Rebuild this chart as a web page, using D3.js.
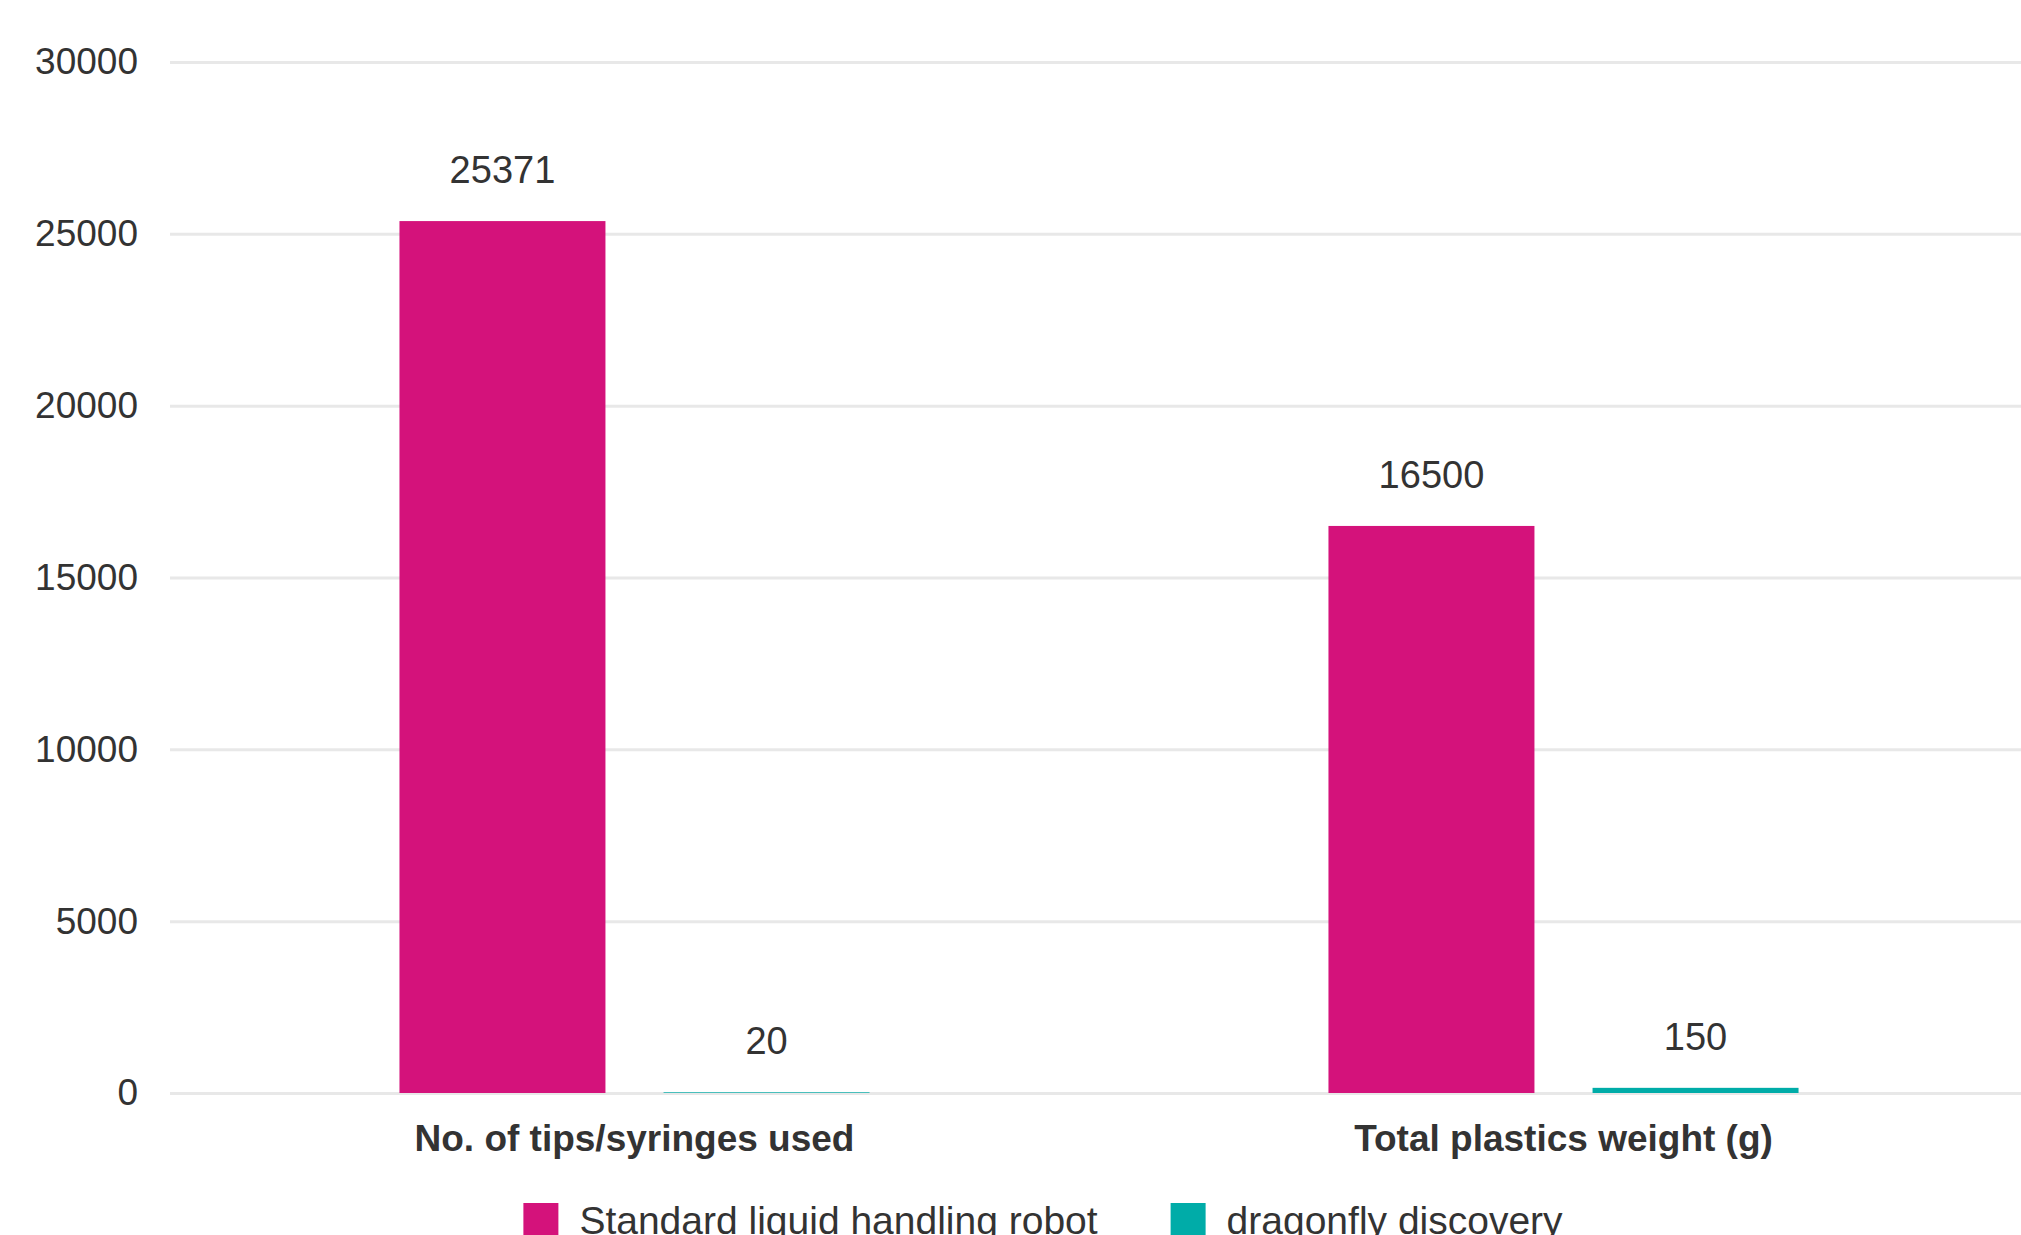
<!DOCTYPE html>
<html>
<head>
<meta charset="utf-8">
<script src="https://cdn.jsdelivr.net/npm/d3@7"></script>
<style>
  body { margin: 0; background: #fff; overflow: hidden; }
  text { font-family: "Liberation Sans", Arial, Helvetica, sans-serif; fill: #333; }
</style>
</head>
<body>
<script>
var categories = ["No. of tips/syringes used", "Total plastics weight (g)"];
var seriesNames = ["Standard liquid handling robot", "dragonfly discovery"];
var robotValues = [25371, 16500];
var dragonflyValues = [20, 150];
var yTicks = [0, 5000, 10000, 15000, 20000, 25000, 30000];

var width = 2021,
    height = 1235,
    plotLeft = 170,
    plotRight = 2028,
    plotTop = 62,
    plotBottom = 1093;

var color = ["#d4127b", "#00aca8"];

var rows = categories.map(function(c, i) {
  return {cat: c, values: [robotValues[i], dragonflyValues[i]]};
});

var x0 = d3.scaleBand()
    .domain(categories)
    .range([plotLeft, plotRight])
    .paddingInner(0.494)
    .paddingOuter(0.247);

var x1 = d3.scaleBand()
    .domain(seriesNames)
    .range([0, x0.bandwidth()])
    .paddingInner(0.22);

var y = d3.scaleLinear()
    .domain([0, 30000])
    .range([plotBottom, plotTop]);

var svg = d3.select("body").append("svg")
    .attr("width", width)
    .attr("height", height);

// gridlines + tick labels
var yAxis = svg.append("g")
    .attr("transform", "translate(" + plotLeft + ",0)")
    .call(d3.axisLeft(y).tickValues(yTicks).tickSize(-(plotRight - plotLeft)).tickPadding(32).tickFormat(d3.format("d")));
yAxis.select(".domain").remove();
yAxis.selectAll(".tick line")
    .attr("stroke", "#e8e8e8")
    .attr("stroke-width", 3);
yAxis.selectAll(".tick text")
    .style("font-size", "37px")
    .style("font-family", "'Liberation Sans', Arial, sans-serif")
    .attr("fill", "#333");

var groups = svg.selectAll("g.group")
    .data(rows)
  .enter().append("g")
    .attr("class", "group")
    .attr("transform", function(d) { return "translate(" + x0(d.cat) + ",0)"; });

var cells = groups.selectAll("g.cell")
    .data(function(d) { return d.values.map(function(v, i) { return {name: seriesNames[i], value: v, i: i}; }); })
  .enter().append("g")
    .attr("class", "cell");

cells.append("rect")
    .attr("x", function(d) { return x1(d.name); })
    .attr("y", function(d) { return y(d.value); })
    .attr("width", x1.bandwidth())
    .attr("height", function(d) { return y(0) - y(d.value); })
    .attr("fill", function(d) { return color[d.i]; });

cells.append("text")
    .attr("x", function(d) { return x1(d.name) + x1.bandwidth() / 2; })
    .attr("y", function(d) { return y(d.value) - 38; })
    .attr("text-anchor", "middle")
    .style("font-size", "38px")
    .text(function(d) { return d.value; });

// category labels
svg.selectAll("text.cat")
    .data(categories)
  .enter().append("text")
    .attr("class", "cat")
    .attr("x", function(d) { return x0(d) + x0.bandwidth() / 2; })
    .attr("y", 1151)
    .attr("text-anchor", "middle")
    .style("font-size", "37px")
    .style("font-weight", "bold")
    .text(function(d) { return d; });

// legend
var legend = svg.append("g");
var lx = 0;
seriesNames.forEach(function(name, i) {
  var item = legend.append("g").attr("transform", "translate(" + lx + ",0)");
  item.append("rect")
      .attr("x", 0).attr("y", 1203)
      .attr("width", 35).attr("height", 35)
      .attr("fill", color[i]);
  var t = item.append("text")
      .attr("x", 56).attr("y", 1234)
      .style("font-size", "39px")
      .text(name);
  lx += 56 + t.node().getComputedTextLength() + 73;
});
var legendWidth = lx - 73;
legend.attr("transform", "translate(" + (1043 - legendWidth / 2) + ",0)");
</script>
</body>
</html>
